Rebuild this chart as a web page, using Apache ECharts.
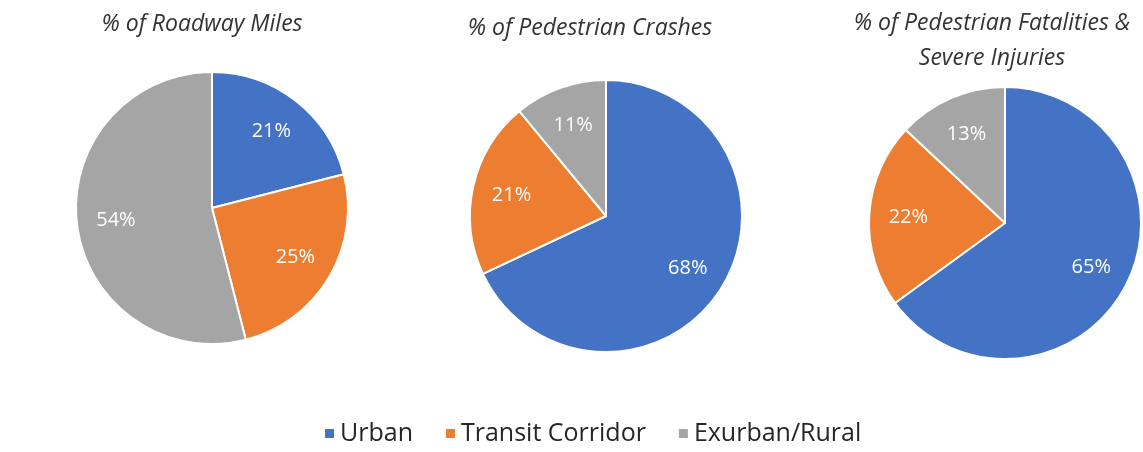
<!DOCTYPE html>
<html>
<head>
<meta charset="utf-8">
<script src="https://cdn.jsdelivr.net/npm/echarts@6/dist/echarts.min.js"></script>
<style>
  html, body { margin: 0; padding: 0; background: #fff; }
  #main { width: 1143px; height: 452px; }
</style>
</head>
<body>
<div id="main"></div>
<script>
// categories and values
var categories = ['Urban', 'Transit Corridor', 'Exurban/Rural']
var colors = ['#4472C4', '#ED7D31', '#A5A5A5']
var roadwayMiles = [21, 25, 54]
var pedCrashes = [68, 21, 11]
var pedFatalSevere = [65, 22, 13]
var pieTitles = ['% of Roadway Miles', '% of Pedestrian Crashes', '% of Pedestrian Fatalities &\nSevere Injuries']

var font = '"Open Sans", sans-serif'
var pies = [
  { values: roadwayMiles, center: [212, 208], titleX: 197, titleY: 2 },
  { values: pedCrashes, center: [606, 216], titleX: 585, titleY: 6 },
  { values: pedFatalSevere, center: [1005, 223], titleX: 987, titleY: 1 }
]
var R = 136

function toData(vals) {
  return vals.map(function (v, i) {
    return { name: categories[i], value: v }
  })
}

var titles = []
var series = []
pies.forEach(function (p, k) {
  titles.push({
    text: pieTitles[k],
    left: p.titleX,
    top: p.titleY,
    textAlign: 'center',
    textStyle: {
      fontFamily: font, fontStyle: 'italic', fontWeight: 'normal',
      fontSize: 23, color: '#333', lineHeight: 35
    }
  })
  // the slices
  series.push({
    type: 'pie',
    center: p.center,
    radius: [0, R],
    startAngle: 90,
    clockwise: true,
    avoidLabelOverlap: false,
    label: { show: false },
    labelLine: { show: false },
    itemStyle: { borderColor: '#fff', borderWidth: 2 },
    emphasis: { disabled: true },
    data: toData(p.values)
  })
  // label ring, transparent, puts the % labels at ~0.69 r
  series.push({
    type: 'pie',
    center: p.center,
    radius: [R * 0.38, R],
    startAngle: 90,
    clockwise: true,
    silent: true,
    avoidLabelOverlap: false,
    legendHoverLink: false,
    itemStyle: { color: 'rgba(0,0,0,0)' },
    label: {
      show: true, position: 'inside',
      formatter: '{c}%',
      color: '#fff', fontSize: 20, fontFamily: font
    },
    labelLine: { show: false },
    data: toData(p.values)
  })
})

var chart = echarts.init(document.getElementById('main'))
chart.setOption({
  backgroundColor: '#fff',
  color: colors,
  animation: false,
  title: titles,
  legend: {
    data: categories,
    bottom: 1,
    left: 318,
    icon: 'rect',
    itemWidth: 11,
    itemHeight: 11,
    itemGap: 31,
    textStyle: { fontFamily: font, fontSize: 25, color: '#262626' }
  },
  series: series
})
</script>
</body>
</html>
